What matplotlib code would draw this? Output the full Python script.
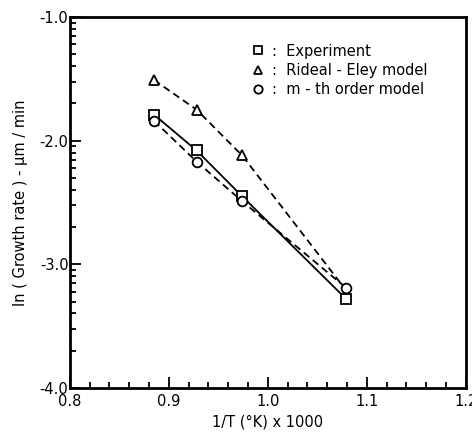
import numpy as np
import matplotlib.pyplot as plt
from matplotlib.ticker import MultipleLocator, FixedLocator

# data
inv_T = [0.885, 0.928, 0.974, 1.079]
ln_exp = [-1.79, -2.08, -2.45, -3.28]
ln_re = [-1.51, -1.75, -2.12, -3.21]
ln_mth = [-1.84, -2.17, -2.49, -3.19]

plt.rcParams['font.family'] = ['DejaVu Sans']
fig = plt.figure(figsize=(4.72, 4.33), dpi=100)
ax = fig.add_axes([0.148, 0.104, 0.839, 0.857])

mk = dict(mfc='white', mec='black', mew=1.3, ms=7, color='black')
ax.plot(inv_T, ln_exp, '-', marker='s', lw=1.3, **mk)
ax.plot(inv_T, ln_re, '--', marker='^', lw=1.3, dashes=(4, 2.5), markevery=[0, 1, 2], **mk)
ax.plot(inv_T, ln_mth, '--', marker='o', lw=1.3, dashes=(4, 2.5), **mk)

ax.set_xlim(0.8, 1.2)
ax.set_ylim(-4.0, -1.0)
ax.xaxis.set_major_locator(MultipleLocator(0.1))
ax.xaxis.set_minor_locator(MultipleLocator(0.02))
ax.yaxis.set_major_locator(MultipleLocator(1.0))
# log-like minor ticks inside each unit on the ln axis
yminor = [d + np.log10(k) for d in (-4, -3, -2) for k in range(2, 10)]
ax.yaxis.set_minor_locator(FixedLocator(yminor))
ax.xaxis.set_major_formatter(plt.FuncFormatter(lambda v, p: f'{v:.1f}'))
ax.yaxis.set_major_formatter(plt.FuncFormatter(lambda v, p: f'{v:.1f}'))

ax.tick_params(which='both', direction='in', top=False, right=False, width=1.3)
ax.tick_params(which='major', length=8, labelsize=10.5)
ax.tick_params(axis='y', which='major', pad=1)
ax.tick_params(axis='x', which='major', pad=4)
ax.tick_params(which='minor', length=4)
for s in ax.spines.values():
    s.set_linewidth(2)

ax.set_xlabel('1/T (°K) x 1000', fontsize=10.5, labelpad=4)
ax.set_ylabel('ln ( Growth rate ) - μm / min', fontsize=10.5, labelpad=8)

handles = [plt.Line2D([], [], ls='none', marker=m, mfc='white', mec='black', mew=1.3, ms=6)
           for m in ('s', '^', 'o')]
labels = [':  Experiment', ':  Rideal - Eley model', ':  m - th order model']
ax.legend(handles, labels, loc='upper left', bbox_to_anchor=(0.443, 0.944), frameon=False,
          fontsize=10.5, handlelength=1.0, handletextpad=0.4, labelspacing=0.3,
          borderaxespad=0)

fig.savefig('out.png', dpi=100)
